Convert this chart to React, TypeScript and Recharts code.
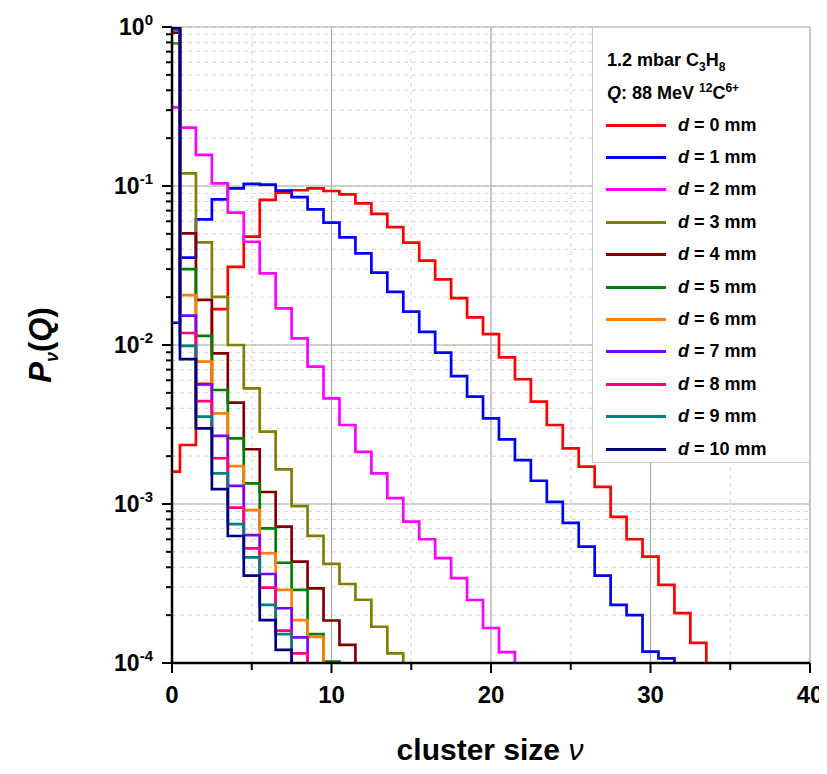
import React from 'react';
import { LineChart, Line, XAxis, YAxis, CartesianGrid, Legend, ReferenceLine } from 'recharts';

const FONT = '"Liberation Sans", Arial, Helvetica, sans-serif';

// cluster size categories
const NU = [0, 1, 2, 3, 4, 5, 6, 7, 8, 9, 10, 11, 12, 13, 14, 15, 16, 17, 18, 19, 20, 21, 22, 23, 24, 25, 26, 27, 28, 29, 30, 31, 32, 33, 34, 35];

// P_nu(Q) for each distance d (mm)
const D0 = [1.6e-3, 2.35e-3, 5.7e-3, 0.0168, 0.031, 0.048, 0.0817, 0.0907, 0.094, 0.0967, 0.093, 0.0887, 0.0778, 0.0667, 0.0552, 0.044, 0.0339, 0.0259, 0.0197, 0.0149, 0.0117, 0.00837, 0.00609, 0.0044, 0.00314, 0.00224, 0.00172, 0.00128, 8.3e-4, 6.0e-4, 4.67e-4, 3.1e-4, 2.06e-4, 1.34e-4];
const D1 = [0.0138, 0.0354, 0.0617, 0.0824, 0.0967, 0.103, 0.102, 0.0934, 0.085, 0.0713, 0.0588, 0.0475, 0.0377, 0.0285, 0.0216, 0.0162, 0.0121, 0.00895, 0.00638, 0.00473, 0.00346, 0.00255, 0.00189, 0.0014, 0.00103, 7.6e-4, 5.4e-4, 3.54e-4, 2.32e-4, 2.0e-4, 1.18e-4, 1.07e-4];
const D2 = [0.312, 0.233, 0.157, 0.104, 0.068, 0.0446, 0.0282, 0.017, 0.011, 0.00731, 0.00462, 0.00314, 0.00213, 0.00156, 0.00109, 7.74e-4, 6.0e-4, 4.57e-4, 3.42e-4, 2.49e-4, 1.66e-4, 1.17e-4];
const D3 = [0.79, 0.12, 0.0442, 0.0201, 0.01, 0.00534, 0.00285, 1.65e-3, 9.7e-4, 6.3e-4, 4.2e-4, 3.14e-4, 2.5e-4, 1.69e-4, 1.15e-4];
const D4 = [0.92, 0.0504, 0.0192, 0.00887, 0.00434, 0.00221, 1.19e-3, 7.2e-4, 4.34e-4, 2.95e-4, 1.85e-4, 1.3e-4];
const D5 = [0.95, 0.03, 0.0114, 0.00521, 0.00259, 1.35e-3, 7.03e-4, 4.27e-4, 2.88e-4, 1.52e-4, 1.02e-4];
const D6 = [0.96, 0.0206, 0.00785, 0.00372, 1.73e-3, 9.16e-4, 4.9e-4, 2.88e-4, 1.86e-4, 1.46e-4];
const D7 = [0.97, 0.0153, 0.00566, 0.00268, 1.3e-3, 6.38e-4, 3.63e-4, 2.21e-4, 1.45e-4];
const D8 = [0.975, 0.0119, 0.00444, 1.94e-3, 9.5e-4, 5.26e-4, 2.98e-4, 1.6e-4, 1.15e-4];
const D9 = [0.98, 0.00986, 0.00354, 1.56e-3, 7.48e-4, 4.62e-4, 2.32e-4, 1.52e-4];
const D10 = [0.985, 0.00816, 0.00299, 1.24e-3, 6.29e-4, 3.54e-4, 1.86e-4, 1.21e-4];

const DISTANCES = [0, 1, 2, 3, 4, 5, 6, 7, 8, 9, 10];
const SERIES = [D0, D1, D2, D3, D4, D5, D6, D7, D8, D9, D10];
const COLORS = ['#ff0000', '#0000ff', '#ff00ff', '#808000', '#800000', '#008000', '#ff8000', '#8000ff', '#ff0080', '#008080', '#000080'];

// value used after the last bin so the histogram drops below the axis
const BELOW_AXIS = 1e-6;

const X_TICKS = [0, 5, 10, 15, 20, 25, 30, 35, 40];
const X_MAJOR = [0, 10, 20, 30, 40];
const Y_MAJOR = [1e-4, 1e-3, 1e-2, 1e-1, 1];
const Y_EXP = ['-4', '-3', '-2', '-1', '0'];
const Y_MULT = [1, 2, 3, 4, 5, 6, 7, 8, 9];
const Y_TICKS: number[] = [];
Y_MAJOR.forEach((m, i) => {
  if (i === Y_MAJOR.length - 1) { Y_TICKS.push(m); return; }
  Y_MULT.forEach((k) => Y_TICKS.push(k === 1 ? m : k * m));
});

const data = NU.map((nu) => {
  const row: any = { nu };
  SERIES.forEach((arr, s) => {
    row['d' + DISTANCES[s]] = nu < arr.length ? arr[nu] : nu === arr.length ? BELOW_AXIS : null;
  });
  return row;
});

const YTick = (props: any) => {
  const { x, y, payload } = props;
  const idx = Y_MAJOR.indexOf(payload.value);
  const major = idx >= 0;
  return (
    <g>
      <line x1={x - (major ? 10 : 6)} x2={x} y1={y} y2={y} stroke="#000" strokeWidth={2} />
      {major && (
        <text x={x - 19} y={y + 8} textAnchor="end" fontSize={23} fontWeight="bold" fill="#000" fontFamily={FONT}>
          10<tspan fontSize={15} dy={-10}>{Y_EXP[idx]}</tspan>
        </text>
      )}
    </g>
  );
};

const XTick = (props: any) => {
  const { x, y, payload } = props;
  const major = X_MAJOR.indexOf(payload.value) >= 0;
  return (
    <g>
      <line x1={x} x2={x} y1={y} y2={y + (major ? 10 : 7)} stroke="#000" strokeWidth={2} />
      {major && (
        <text x={x} y={y + 40} textAnchor="middle" fontSize={24} fontWeight="bold" fill="#000" fontFamily={FONT}>
          {payload.value}
        </text>
      )}
    </g>
  );
};

const LegendBox = (props: any) => {
  const payload = [...(props.payload || [])].sort(
    (a: any, b: any) => Number(String(a.dataKey).slice(1)) - Number(String(b.dataKey).slice(1))
  );
  return (
    <div style={{ width: 218, height: 436, background: '#fff', border: '1px solid #c8c8c8', boxSizing: 'border-box', fontFamily: FONT, fontWeight: 'bold', color: '#000', position: 'relative', fontSize: 18 }}>
      <div style={{ position: 'absolute', left: 14, top: 21, whiteSpace: 'nowrap', lineHeight: '22px' }}>
        1.2 mbar C<span style={{ fontSize: 12, position: 'relative', top: 5 }}>3</span>H<span style={{ fontSize: 12, position: 'relative', top: 5 }}>8</span>
      </div>
      <div style={{ position: 'absolute', left: 14, top: 54, whiteSpace: 'nowrap', lineHeight: '22px' }}>
        <i>Q</i>: 88 MeV <span style={{ fontSize: 12, position: 'relative', top: -7 }}>12</span>C<span style={{ fontSize: 12, position: 'relative', top: -7 }}>6+</span>
      </div>
      {payload.map((p: any, i: number) => (
        <div key={i} style={{ position: 'absolute', left: 13, top: 86 + i * 32.4, height: 22, display: 'flex', alignItems: 'center', whiteSpace: 'nowrap' }}>
          <div style={{ width: 60, height: 3, background: p.color, marginRight: 12 }} />
          <span><i>d</i>{String(p.value).slice(1)}</span>
        </div>
      ))}
    </div>
  );
};

export default function App() {
  return (
    <div style={{ position: 'relative', width: 827, height: 766, background: '#fff' }}>
      <style>{'html, body { overflow: hidden; }'}</style>
      <LineChart width={827} height={766} data={data} margin={{ top: 19, right: 25, bottom: 71, left: 104 }}>
        <CartesianGrid stroke="#d4d4d4" strokeDasharray="4 4" strokeWidth={1} />
        {Y_MAJOR.map((v) => (
          <ReferenceLine key={'y' + v} y={v} stroke="#a9a9a9" strokeWidth={1.2} ifOverflow="visible" />
        ))}
        {X_MAJOR.map((v) => (
          <ReferenceLine key={'x' + v} x={v} stroke="#a9a9a9" strokeWidth={1.2} ifOverflow="visible" />
        ))}
        <XAxis
          type="number"
          dataKey="nu"
          domain={[0, 40]}
          ticks={X_TICKS}
          interval={0}
          height={40}
          tickSize={0}
          tickMargin={0}
          tickLine={false}
          tick={<XTick />}
          axisLine={{ stroke: '#000', strokeWidth: 2.5 }}
          label={{
            content: () => (
              <text x={482} y={752} textAnchor="middle" fontSize={30} fontWeight="bold" fill="#000" fontFamily={FONT}>
                cluster size <tspan fontStyle="italic" fontWeight="normal">ν</tspan>
              </text>
            ),
          }}
        />
        <YAxis
          type="number"
          scale="log"
          domain={[1e-4, 1]}
          allowDataOverflow
          ticks={Y_TICKS}
          interval={0}
          width={60}
          tickSize={0}
          tickMargin={0}
          tickLine={false}
          tick={<YTick />}
          axisLine={{ stroke: '#000', strokeWidth: 2.5 }}
          label={{
            content: () => (
              <text transform="translate(32,337) rotate(-90)" y={11} textAnchor="middle" fontSize={31} fontWeight="bold" fill="#000" fontFamily={FONT}>
                <tspan fontStyle="italic">P</tspan>
                <tspan fontStyle="italic" fontSize={18} dy={7}>ν</tspan>
                <tspan dy={-7}>(</tspan>
                <tspan fontStyle="italic">Q</tspan>
                <tspan>)</tspan>
              </text>
            ),
          }}
        />
        {DISTANCES.map((d, i) => (
          <Line
            key={d}
            type="step"
            dataKey={'d' + d}
            name={`d = ${d} mm`}
            stroke={COLORS[i]}
            strokeWidth={2.7}
            dot={false}
            activeDot={false}
            connectNulls={false}
            isAnimationActive={false}
          />
        ))}
        <Legend
          layout="vertical"
          align="center"
          verticalAlign="middle"
          content={<LegendBox />}
          wrapperStyle={{ position: 'absolute', left: 584, top: 19, width: 218, height: 436 }}
        />
      </LineChart>
    </div>
  );
}
